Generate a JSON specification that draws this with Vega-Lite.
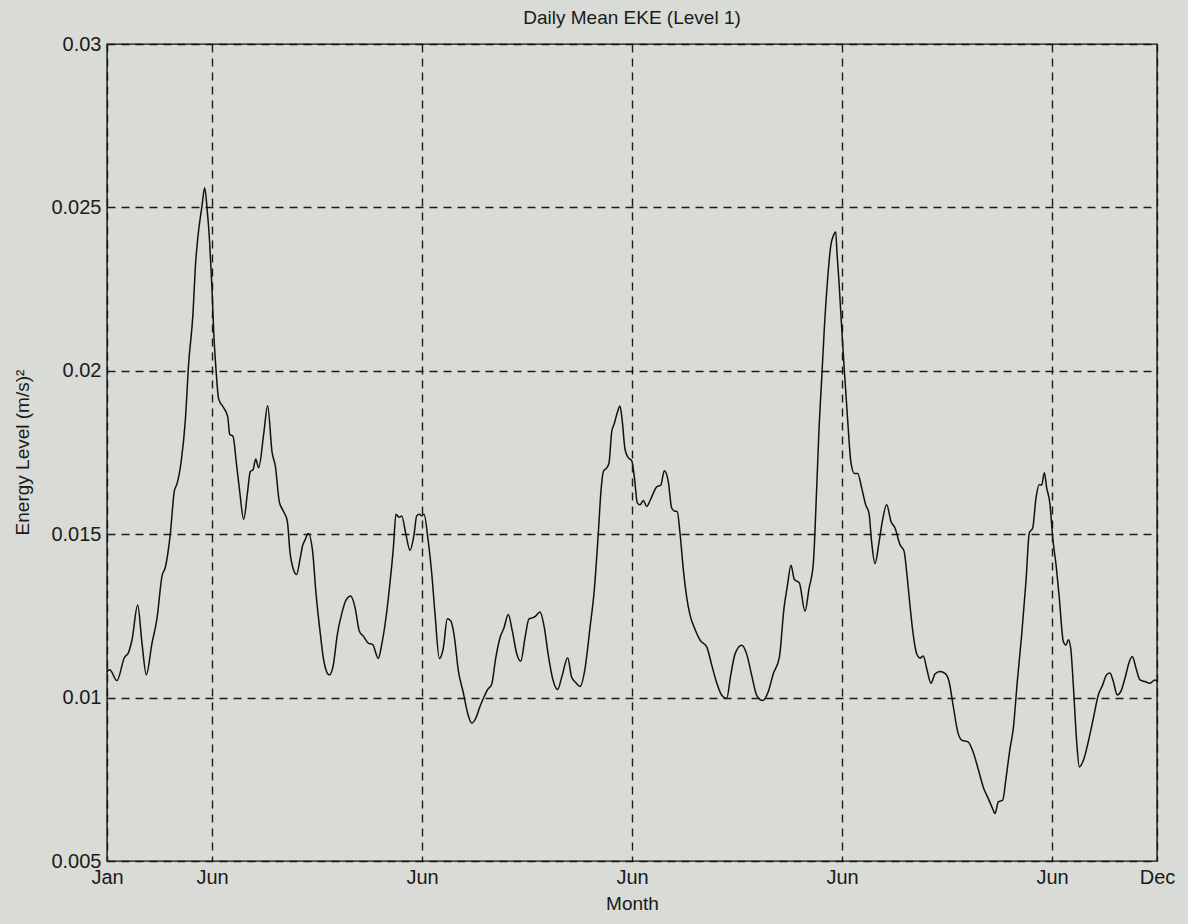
{
  "$schema": "https://vega.github.io/schema/vega-lite/v6.json",
  "autosize": "none",
  "width": 1050,
  "height": 817,
  "padding": {"left": 107, "top": 44, "right": 31, "bottom": 63},
  "background": "#d9dbd7",
  "title": {
    "text": "Daily Mean EKE (Level 1)",
    "font": "Liberation Sans",
    "fontSize": 19,
    "fontWeight": "normal",
    "color": "#1a1a1a",
    "anchor": "middle",
    "offset": 6
  },
  "config": {
    "view": {"stroke": "#111111", "strokeWidth": 1.4, "fill": "#d9dbd7"},
    "axis": {
      "labelFont": "Liberation Sans",
      "labelFontSize": 20,
      "labelColor": "#1a1a1a",
      "titleFont": "Liberation Sans",
      "titleFontSize": 19,
      "titleFontWeight": "normal",
      "titleColor": "#1a1a1a",
      "domain": false,
      "ticks": false,
      "grid": true,
      "gridColor": "#111111",
      "gridDash": [8, 6],
      "gridWidth": 1.4,
      "gridOpacity": 0.95
    }
  },
  "data": {
    "values": [
      {"day": 0, "eke": 0.01079},
      {"day": 4.6, "eke": 0.01085},
      {"day": 17.1, "eke": 0.01052},
      {"day": 29.7, "eke": 0.01122},
      {"day": 37.1, "eke": 0.01139},
      {"day": 42.9, "eke": 0.01177},
      {"day": 52.6, "eke": 0.01283},
      {"day": 60.0, "eke": 0.01166},
      {"day": 67.4, "eke": 0.0107},
      {"day": 77.1, "eke": 0.01166},
      {"day": 85.7, "eke": 0.01242},
      {"day": 94.3, "eke": 0.01372},
      {"day": 100.0, "eke": 0.01399},
      {"day": 108.6, "eke": 0.01502},
      {"day": 115.4, "eke": 0.01632},
      {"day": 120.0, "eke": 0.01654},
      {"day": 126.9, "eke": 0.01719},
      {"day": 134.3, "eke": 0.01849},
      {"day": 140.0, "eke": 0.02023},
      {"day": 147.4, "eke": 0.02175},
      {"day": 151.4, "eke": 0.02316},
      {"day": 156.0, "eke": 0.02413},
      {"day": 162.9, "eke": 0.02505},
      {"day": 167.4, "eke": 0.0256},
      {"day": 171.4, "eke": 0.025},
      {"day": 176.0, "eke": 0.02392},
      {"day": 180.0, "eke": 0.02251},
      {"day": 182.9, "eke": 0.0212},
      {"day": 186.9, "eke": 0.02003},
      {"day": 191.4, "eke": 0.01914},
      {"day": 200.0, "eke": 0.01887},
      {"day": 206.9, "eke": 0.0186},
      {"day": 210.3, "eke": 0.01806},
      {"day": 216.0, "eke": 0.018},
      {"day": 221.7, "eke": 0.01719},
      {"day": 227.4, "eke": 0.01632},
      {"day": 234.3, "eke": 0.01545},
      {"day": 241.1, "eke": 0.01632},
      {"day": 245.7, "eke": 0.01692},
      {"day": 250.3, "eke": 0.01697},
      {"day": 254.9, "eke": 0.0173},
      {"day": 260.0, "eke": 0.01703},
      {"day": 268.6, "eke": 0.01806},
      {"day": 275.4, "eke": 0.01893},
      {"day": 282.9, "eke": 0.01752},
      {"day": 288.6, "eke": 0.01708},
      {"day": 295.4, "eke": 0.01599},
      {"day": 302.2, "eke": 0.01571},
      {"day": 309.1, "eke": 0.0154},
      {"day": 313.7, "eke": 0.01445},
      {"day": 319.4, "eke": 0.01393},
      {"day": 325.2, "eke": 0.01377},
      {"day": 330.9, "eke": 0.01424},
      {"day": 335.5, "eke": 0.01466},
      {"day": 339.4, "eke": 0.01482},
      {"day": 345.1, "eke": 0.01502},
      {"day": 352.6, "eke": 0.01445},
      {"day": 358.3, "eke": 0.01319},
      {"day": 365.1, "eke": 0.01204},
      {"day": 372.0, "eke": 0.01109},
      {"day": 381.1, "eke": 0.01069},
      {"day": 387.9, "eke": 0.01099},
      {"day": 394.8, "eke": 0.01193},
      {"day": 402.3, "eke": 0.01256},
      {"day": 409.7, "eke": 0.01298},
      {"day": 417.8, "eke": 0.01311},
      {"day": 425.1, "eke": 0.01277},
      {"day": 432.5, "eke": 0.01204},
      {"day": 439.4, "eke": 0.01188},
      {"day": 447.9, "eke": 0.01167},
      {"day": 455.5, "eke": 0.01162},
      {"day": 465.1, "eke": 0.0112},
      {"day": 470.9, "eke": 0.01162},
      {"day": 479.5, "eke": 0.01262},
      {"day": 485.1, "eke": 0.01351},
      {"day": 490.8, "eke": 0.01456},
      {"day": 495.4, "eke": 0.01561},
      {"day": 500.6, "eke": 0.01552},
      {"day": 505.2, "eke": 0.01556},
      {"day": 512.6, "eke": 0.01498},
      {"day": 519.4, "eke": 0.01451},
      {"day": 526.3, "eke": 0.01498},
      {"day": 530.9, "eke": 0.01556},
      {"day": 535.4, "eke": 0.01561},
      {"day": 539.5, "eke": 0.01556},
      {"day": 543.4, "eke": 0.01561},
      {"day": 550.8, "eke": 0.01477},
      {"day": 556.6, "eke": 0.01382},
      {"day": 562.3, "eke": 0.01256},
      {"day": 569.7, "eke": 0.0112},
      {"day": 576.5, "eke": 0.01151},
      {"day": 583.4, "eke": 0.01241},
      {"day": 589.2, "eke": 0.01235},
      {"day": 594.9, "eke": 0.01193},
      {"day": 602.5, "eke": 0.0108},
      {"day": 610.8, "eke": 0.01015},
      {"day": 618.3, "eke": 0.00952},
      {"day": 625.2, "eke": 0.00922},
      {"day": 632.0, "eke": 0.00936},
      {"day": 639.4, "eke": 0.00973},
      {"day": 646.8, "eke": 0.01004},
      {"day": 652.6, "eke": 0.01025},
      {"day": 659.5, "eke": 0.01041},
      {"day": 666.3, "eke": 0.0112},
      {"day": 673.7, "eke": 0.01183},
      {"day": 680.6, "eke": 0.01214},
      {"day": 687.9, "eke": 0.01254},
      {"day": 694.8, "eke": 0.01204},
      {"day": 702.3, "eke": 0.01135},
      {"day": 709.2, "eke": 0.01111},
      {"day": 716.6, "eke": 0.01183},
      {"day": 723.4, "eke": 0.01241},
      {"day": 729.1, "eke": 0.01244},
      {"day": 733.7, "eke": 0.01248},
      {"day": 742.3, "eke": 0.01262},
      {"day": 749.7, "eke": 0.01214},
      {"day": 756.5, "eke": 0.0113},
      {"day": 764.1, "eke": 0.01057},
      {"day": 772.6, "eke": 0.01025},
      {"day": 779.5, "eke": 0.01062},
      {"day": 789.8, "eke": 0.01122},
      {"day": 796.6, "eke": 0.01062},
      {"day": 803.5, "eke": 0.01046},
      {"day": 810.9, "eke": 0.01034},
      {"day": 819.4, "eke": 0.01088},
      {"day": 828.0, "eke": 0.01214},
      {"day": 835.4, "eke": 0.0133},
      {"day": 842.2, "eke": 0.01502},
      {"day": 846.9, "eke": 0.01634},
      {"day": 850.9, "eke": 0.01692},
      {"day": 856.6, "eke": 0.01703},
      {"day": 860.6, "eke": 0.01718},
      {"day": 865.2, "eke": 0.01813},
      {"day": 869.7, "eke": 0.01839},
      {"day": 875.5, "eke": 0.01876},
      {"day": 879.4, "eke": 0.01892},
      {"day": 883.4, "eke": 0.01845},
      {"day": 888.0, "eke": 0.0176},
      {"day": 893.7, "eke": 0.01734},
      {"day": 899.5, "eke": 0.01725},
      {"day": 903.9, "eke": 0.01677},
      {"day": 909.1, "eke": 0.01596},
      {"day": 913.7, "eke": 0.0159},
      {"day": 919.4, "eke": 0.01603},
      {"day": 925.2, "eke": 0.01585},
      {"day": 932.0, "eke": 0.01607},
      {"day": 942.3, "eke": 0.01645},
      {"day": 949.2, "eke": 0.0165},
      {"day": 955.4, "eke": 0.01694},
      {"day": 962.2, "eke": 0.01661},
      {"day": 968.0, "eke": 0.0158},
      {"day": 972.5, "eke": 0.01571},
      {"day": 977.6, "eke": 0.01569},
      {"day": 982.3, "eke": 0.01503},
      {"day": 987.9, "eke": 0.01394},
      {"day": 993.8, "eke": 0.01307},
      {"day": 999.4, "eke": 0.01253},
      {"day": 1008.0, "eke": 0.01209},
      {"day": 1016.6, "eke": 0.01176},
      {"day": 1028.1, "eke": 0.01155},
      {"day": 1036.6, "eke": 0.011},
      {"day": 1045.2, "eke": 0.01045},
      {"day": 1053.8, "eke": 0.01007},
      {"day": 1062.3, "eke": 0.00997},
      {"day": 1069.2, "eke": 0.01068},
      {"day": 1076.6, "eke": 0.01133},
      {"day": 1088.0, "eke": 0.0116},
      {"day": 1096.6, "eke": 0.01133},
      {"day": 1105.2, "eke": 0.01068},
      {"day": 1113.8, "eke": 0.01007},
      {"day": 1124.0, "eke": 0.00991},
      {"day": 1133.7, "eke": 0.01019},
      {"day": 1142.2, "eke": 0.01073},
      {"day": 1152.5, "eke": 0.01122},
      {"day": 1160.6, "eke": 0.01274},
      {"day": 1166.2, "eke": 0.0134},
      {"day": 1172.6, "eke": 0.01405},
      {"day": 1178.2, "eke": 0.01362},
      {"day": 1186.8, "eke": 0.01351},
      {"day": 1196.6, "eke": 0.01264},
      {"day": 1203.4, "eke": 0.01333},
      {"day": 1210.8, "eke": 0.0141},
      {"day": 1216.6, "eke": 0.01641},
      {"day": 1220.6, "eke": 0.01821},
      {"day": 1225.2, "eke": 0.01976},
      {"day": 1229.7, "eke": 0.0213},
      {"day": 1235.5, "eke": 0.02284},
      {"day": 1241.1, "eke": 0.02387},
      {"day": 1245.1, "eke": 0.02413},
      {"day": 1249.2, "eke": 0.02425},
      {"day": 1251.4, "eke": 0.02361},
      {"day": 1254.9, "eke": 0.02271},
      {"day": 1259.5, "eke": 0.0213},
      {"day": 1264.0, "eke": 0.02001},
      {"day": 1269.8, "eke": 0.01847},
      {"day": 1275.4, "eke": 0.01718},
      {"day": 1281.1, "eke": 0.01686},
      {"day": 1286.9, "eke": 0.01686},
      {"day": 1293.8, "eke": 0.01641},
      {"day": 1300.6, "eke": 0.0159},
      {"day": 1306.3, "eke": 0.01564},
      {"day": 1310.9, "eke": 0.01474},
      {"day": 1316.6, "eke": 0.0141},
      {"day": 1323.4, "eke": 0.01474},
      {"day": 1329.1, "eke": 0.01539},
      {"day": 1336.6, "eke": 0.0159},
      {"day": 1344.0, "eke": 0.01539},
      {"day": 1350.9, "eke": 0.01519},
      {"day": 1359.4, "eke": 0.01468},
      {"day": 1366.3, "eke": 0.01449},
      {"day": 1370.9, "eke": 0.01384},
      {"day": 1376.6, "eke": 0.01281},
      {"day": 1382.2, "eke": 0.01191},
      {"day": 1388.0, "eke": 0.01134},
      {"day": 1393.7, "eke": 0.01121},
      {"day": 1399.4, "eke": 0.01127},
      {"day": 1405.2, "eke": 0.01089},
      {"day": 1412.6, "eke": 0.01044},
      {"day": 1419.4, "eke": 0.01072},
      {"day": 1428.0, "eke": 0.0108},
      {"day": 1436.6, "eke": 0.01074},
      {"day": 1443.4, "eke": 0.0105},
      {"day": 1450.8, "eke": 0.00973},
      {"day": 1458.3, "eke": 0.00896},
      {"day": 1465.2, "eke": 0.0087},
      {"day": 1476.5, "eke": 0.00864},
      {"day": 1485.1, "eke": 0.00832},
      {"day": 1493.7, "eke": 0.0078},
      {"day": 1502.2, "eke": 0.00726},
      {"day": 1510.8, "eke": 0.00691},
      {"day": 1518.3, "eke": 0.0066},
      {"day": 1522.3, "eke": 0.00645},
      {"day": 1528.0, "eke": 0.00681},
      {"day": 1535.5, "eke": 0.00686},
      {"day": 1541.1, "eke": 0.00752},
      {"day": 1548.0, "eke": 0.00844},
      {"day": 1553.7, "eke": 0.00906},
      {"day": 1560.5, "eke": 0.01049},
      {"day": 1568.0, "eke": 0.01192},
      {"day": 1575.4, "eke": 0.01356},
      {"day": 1581.1, "eke": 0.01504},
      {"day": 1586.9, "eke": 0.01519},
      {"day": 1592.6, "eke": 0.01611},
      {"day": 1598.2, "eke": 0.01652},
      {"day": 1602.3, "eke": 0.0165},
      {"day": 1606.8, "eke": 0.01688},
      {"day": 1610.9, "eke": 0.01642},
      {"day": 1616.6, "eke": 0.01591},
      {"day": 1621.2, "eke": 0.01489},
      {"day": 1626.9, "eke": 0.01407},
      {"day": 1632.5, "eke": 0.01305},
      {"day": 1639.4, "eke": 0.01172},
      {"day": 1644.0, "eke": 0.01161},
      {"day": 1648.0, "eke": 0.01177},
      {"day": 1652.1, "eke": 0.01151},
      {"day": 1656.5, "eke": 0.01039},
      {"day": 1662.3, "eke": 0.00865},
      {"day": 1666.8, "eke": 0.00788},
      {"day": 1674.9, "eke": 0.00814},
      {"day": 1682.2, "eke": 0.00865},
      {"day": 1690.8, "eke": 0.00936},
      {"day": 1699.4, "eke": 0.01008},
      {"day": 1706.9, "eke": 0.01039},
      {"day": 1713.7, "eke": 0.0107},
      {"day": 1719.4, "eke": 0.01075},
      {"day": 1725.1, "eke": 0.01049},
      {"day": 1732.0, "eke": 0.01008},
      {"day": 1737.8, "eke": 0.01018},
      {"day": 1745.1, "eke": 0.01059},
      {"day": 1752.5, "eke": 0.0111},
      {"day": 1757.7, "eke": 0.01126},
      {"day": 1764.0, "eke": 0.0109},
      {"day": 1770.9, "eke": 0.01054},
      {"day": 1779.4, "eke": 0.01049},
      {"day": 1788.0, "eke": 0.01044},
      {"day": 1796.6, "eke": 0.01054},
      {"day": 1800, "eke": 0.0105}
    ]
  },
  "mark": {"type": "line", "color": "#111111", "strokeWidth": 1.5, "interpolate": "monotone"},
  "encoding": {
    "x": {
      "field": "day",
      "type": "quantitative",
      "scale": {"domain": [0, 1800], "nice": false, "zero": false},
      "axis": {
        "values": [0, 180, 540, 900, 1260, 1620, 1800],
        "labelExpr": "datum.value == 0 ? 'Jan' : datum.value == 1800 ? 'Dec' : 'Jun'",
        "labelPadding": 6,
        "labelFlush": false,
        "title": "Month",
        "titlePadding": 7
      }
    },
    "y": {
      "field": "eke",
      "type": "quantitative",
      "scale": {"domain": [0.005, 0.03], "nice": false, "zero": false},
      "axis": {
        "values": [0.005, 0.01, 0.015, 0.02, 0.025, 0.03],
        "format": ".3~f",
        "labelPadding": 6,
        "labelFlush": false,
        "title": "Energy Level (m/s)²",
        "titleAngle": -90,
        "titleX": -85,
        "titleY": 408,
        "titleAlign": "center",
        "titleBaseline": "middle"
      }
    }
  }
}
